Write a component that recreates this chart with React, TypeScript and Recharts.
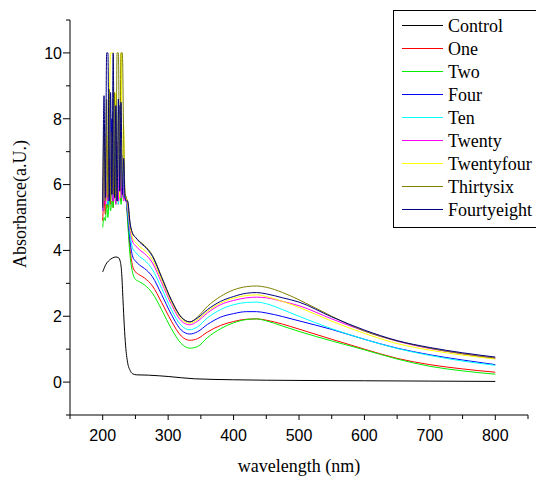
import React from 'react';
import { LineChart, Line, XAxis, YAxis, Legend, Label } from 'recharts';

// wavelengths (nm): noisy saturated region, then the smooth part of the spectra
const noiseWl = [200, 202, 204, 206, 208, 210, 212, 214, 216, 218, 220, 222, 224, 226, 228, 230, 232, 234, 236];
const smoothWl = [238, 242, 246, 250, 256, 264, 276, 290, 305, 320, 333, 345, 360, 380, 400, 420, 435, 450, 475, 500, 550, 600, 650, 700, 750, 800];

const controlWl = [200, 205, 210, 215, 220, 224, 227, 229, 231, 233, 235, 238, 242, 246, 252, 270, 300, 340, 400, 500, 600, 700, 800];
const controlAbs = [3.35, 3.58, 3.7, 3.77, 3.8, 3.78, 3.65, 3.3, 2.5, 1.7, 1.1, 0.6, 0.35, 0.25, 0.22, 0.21, 0.17, 0.1, 0.07, 0.05, 0.04, 0.03, 0.02];

const oneNoise = [4.9, 5.6, 5.1, 6.1, 5.3, 5.9, 5.4, 6.6, 5.3, 6.2, 5.5, 7.0, 5.4, 6.3, 5.5, 6.0, 5.6, 5.7, 5.5];
const oneAbs = [5.0, 4.0, 3.5, 3.35, 3.26, 3.16, 2.92, 2.42, 1.85, 1.4, 1.27, 1.32, 1.52, 1.72, 1.84, 1.91, 1.92, 1.88, 1.76, 1.61, 1.3, 1.0, 0.72, 0.53, 0.4, 0.3];

const twoNoise = [4.7, 5.0, 4.9, 5.4, 5.0, 5.6, 5.2, 5.5, 5.3, 5.9, 5.4, 5.8, 5.5, 6.1, 5.4, 5.7, 5.6, 5.6, 5.5];
const twoAbs = [4.9, 3.8, 3.3, 3.12, 3.05, 2.95, 2.7, 2.2, 1.62, 1.17, 1.03, 1.08, 1.35, 1.62, 1.8, 1.9, 1.92, 1.86, 1.7, 1.54, 1.25, 0.98, 0.7, 0.48, 0.34, 0.24];

const fourNoise = [5.2, 6.6, 5.5, 7.1, 5.4, 6.9, 5.6, 8.0, 5.5, 7.3, 5.6, 6.6, 5.5, 8.4, 5.7, 6.9, 5.6, 5.7, 5.5];
const fourAbs = [5.1, 4.25, 3.8, 3.68, 3.56, 3.45, 3.2, 2.66, 2.05, 1.58, 1.46, 1.53, 1.75, 1.97, 2.08, 2.14, 2.14, 2.1, 1.99, 1.86, 1.6, 1.3, 1.03, 0.83, 0.67, 0.53];

const tenNoise = [5.2, 6.2, 5.5, 6.8, 5.4, 7.0, 5.5, 6.4, 5.6, 7.2, 5.5, 6.7, 5.4, 7.1, 5.6, 6.5, 5.7, 5.6, 5.5];
const tenAbs = [5.2, 4.45, 4.05, 3.95, 3.82, 3.7, 3.42, 2.85, 2.2, 1.72, 1.59, 1.68, 1.95, 2.2, 2.35, 2.42, 2.43, 2.38, 2.2, 2.0, 1.62, 1.3, 1.02, 0.81, 0.64, 0.51];

const twentyNoise = [5.2, 6.5, 5.4, 7.2, 5.5, 6.8, 5.6, 7.4, 5.5, 6.6, 5.4, 7.3, 5.5, 6.9, 5.6, 6.4, 5.5, 5.6, 5.5];
const twentyAbs = [5.3, 4.6, 4.25, 4.15, 4.02, 3.9, 3.62, 3.02, 2.36, 1.86, 1.74, 1.85, 2.1, 2.35, 2.48, 2.56, 2.58, 2.56, 2.45, 2.32, 1.92, 1.55, 1.24, 1.02, 0.86, 0.73];

const twentyfourNoise = [5.3, 6.9, 5.6, 7.5, 5.7, 8.2, 10, 10, 10, 5.6, 8.8, 5.7, 8.2, 5.6, 10, 5.9, 7.8, 5.7, 5.6];
const twentyfourAbs = [5.4, 4.7, 4.35, 4.25, 4.12, 4.0, 3.72, 3.1, 2.42, 1.92, 1.79, 1.9, 2.15, 2.4, 2.55, 2.63, 2.65, 2.6, 2.45, 2.27, 1.85, 1.48, 1.17, 0.97, 0.82, 0.7];

const thirtysixNoise = [5.4, 7.8, 5.5, 8.6, 5.6, 8.9, 5.5, 7.6, 5.7, 8.8, 5.6, 10, 10, 5.8, 10, 10, 7.5, 5.8, 5.6];
const thirtysixAbs = [5.5, 4.8, 4.5, 4.4, 4.28, 4.15, 3.85, 3.2, 2.5, 1.98, 1.83, 1.98, 2.3, 2.6, 2.8, 2.9, 2.92, 2.88, 2.72, 2.5, 2.0, 1.55, 1.25, 1.03, 0.86, 0.73];

const fourtyeightNoise = [5.3, 8.7, 5.6, 10, 10, 5.5, 8.8, 5.7, 10, 5.6, 8.4, 5.5, 8.6, 5.8, 8.5, 5.7, 6.8, 5.6, 5.5];
const fourtyeightAbs = [5.5, 4.8, 4.5, 4.4, 4.26, 4.12, 3.82, 3.18, 2.48, 1.97, 1.83, 1.95, 2.2, 2.45, 2.6, 2.7, 2.72, 2.68, 2.56, 2.43, 1.98, 1.58, 1.26, 1.05, 0.89, 0.76];

const xTicks = [150, 200, 250, 300, 350, 400, 450, 500, 550, 600, 650, 700, 750, 800, 850];
const yTicks = [-1, 0, 1, 2, 3, 4, 5, 6, 7, 8, 9, 10, 11];

const zip = (xs: number[], ys: number[]) => xs.map((wl, i) => ({ wl, v: ys[i] }));
const allWl = noiseWl.concat(smoothWl);

const series = [
  { name: 'Control', color: '#000000', data: zip(controlWl, controlAbs) },
  { name: 'One', color: '#ff0000', data: zip(allWl, oneNoise.concat(oneAbs)) },
  { name: 'Two', color: '#00ee00', data: zip(allWl, twoNoise.concat(twoAbs)) },
  { name: 'Four', color: '#0000ff', data: zip(allWl, fourNoise.concat(fourAbs)) },
  { name: 'Ten', color: '#00ffff', data: zip(allWl, tenNoise.concat(tenAbs)) },
  { name: 'Twenty', color: '#ff00ff', data: zip(allWl, twentyNoise.concat(twentyAbs)) },
  { name: 'Twentyfour', color: '#ffff00', data: zip(allWl, twentyfourNoise.concat(twentyfourAbs)) },
  { name: 'Thirtysix', color: '#808000', data: zip(allWl, thirtysixNoise.concat(thirtysixAbs)) },
  { name: 'Fourtyeight', color: '#000080', data: zip(allWl, fourtyeightNoise.concat(fourtyeightAbs)) },
];

const YTick = (props: any) => {
  const { x, y, payload } = props;
  const v = payload.value;
  const major = v >= 0 && v <= 10 && v % 2 === 0;
  return (
    <g>
      <line x1={x - (major ? 7 : 4)} x2={x} y1={y} y2={y} stroke="#000" />
      {major && (
        <text x={x - 8} y={y} dy={5.8} textAnchor="end" fontFamily="Liberation Sans" fontSize={16} fill="#000">
          {v}
        </text>
      )}
    </g>
  );
};

const XTick = (props: any) => {
  const { x, y, payload } = props;
  const v = payload.value;
  const major = v >= 200 && v <= 800 && v % 100 === 0;
  return (
    <g>
      <line x1={x} x2={x} y1={y} y2={y + (major ? 5 : 4)} stroke="#000" />
      {major && (
        <text x={x} y={y + 25.5} textAnchor="middle" fontFamily="Liberation Sans" fontSize={16} fill="#000">
          {v}
        </text>
      )}
    </g>
  );
};

const XTitle = () => (
  <text x={299} y={472} textAnchor="middle" fontFamily="Liberation Serif" fontSize={18} fill="#000">
    wavelength (nm)
  </text>
);

const YTitle = () => (
  <text x={26} y={204} transform="rotate(-90 26 204)" textAnchor="middle" fontFamily="Liberation Serif" fontSize={18} fill="#000">
    Absorbance(a.U.)
  </text>
);

// box runs past the right edge of the picture, like the original
const LegendBox = () => (
  <div
    style={{
      borderTop: '1px solid #000',
      borderLeft: '1px solid #000',
      borderBottom: '1px solid #000',
      width: 143,
      height: 218,
      boxSizing: 'border-box',
      background: '#fff',
      paddingTop: 3,
      fontFamily: "'Liberation Serif'",
      fontSize: 18,
    }}
  >
    {series.map((s) => (
      <div key={s.name} style={{ height: 23, display: 'flex', alignItems: 'center' }}>
        <svg width={54} height={23} style={{ display: 'block', flex: 'none' }}>
          <line x1={8} x2={49} y1={11.5} y2={11.5} stroke={s.color} strokeWidth={1.2} />
        </svg>
        <span style={{ fontFamily: "'Liberation Serif'", fontSize: 18, color: '#000', lineHeight: '18px', whiteSpace: 'nowrap' }}>
          {s.name}
        </span>
      </div>
    ))}
  </div>
);

export default function App() {
  return (
    <div
      style={{
        position: 'absolute',
        left: 0,
        top: 0,
        width: 536,
        height: 480,
        overflow: 'hidden',
        background: '#fff',
        fontFamily: "'Liberation Serif'",
      }}
    >
      <LineChart width={536} height={480} margin={{ top: 20, right: 8, bottom: 0, left: 0 }}>
        <XAxis
          dataKey="wl"
          type="number"
          domain={[150, 850]}
          ticks={xTicks}
          interval={0}
          allowDataOverflow
          height={65}
          tickSize={0}
          tickMargin={0}
          tickLine={false}
          tick={<XTick />}
          axisLine={{ stroke: '#000' }}
        >
          <Label content={<XTitle />} />
        </XAxis>
        <YAxis
          type="number"
          domain={[-1, 11]}
          ticks={yTicks}
          interval={0}
          allowDataOverflow
          width={70}
          tickSize={0}
          tickMargin={0}
          tickLine={false}
          tick={<YTick />}
          axisLine={{ stroke: '#000' }}
        >
          <Label content={<YTitle />} />
        </YAxis>
        <Legend
          layout="vertical"
          align="center"
          verticalAlign="middle"
          content={<LegendBox />}
          wrapperStyle={{ position: 'absolute', left: 393, top: 10, width: 143, height: 218 }}
        />
        {series.map((s) => (
          <Line
            key={s.name}
            data={s.data}
            dataKey="v"
            name={s.name}
            type="monotone"
            stroke={s.color}
            strokeWidth={1}
            dot={false}
            activeDot={false}
            isAnimationActive={false}
          />
        ))}
      </LineChart>
    </div>
  );
}
